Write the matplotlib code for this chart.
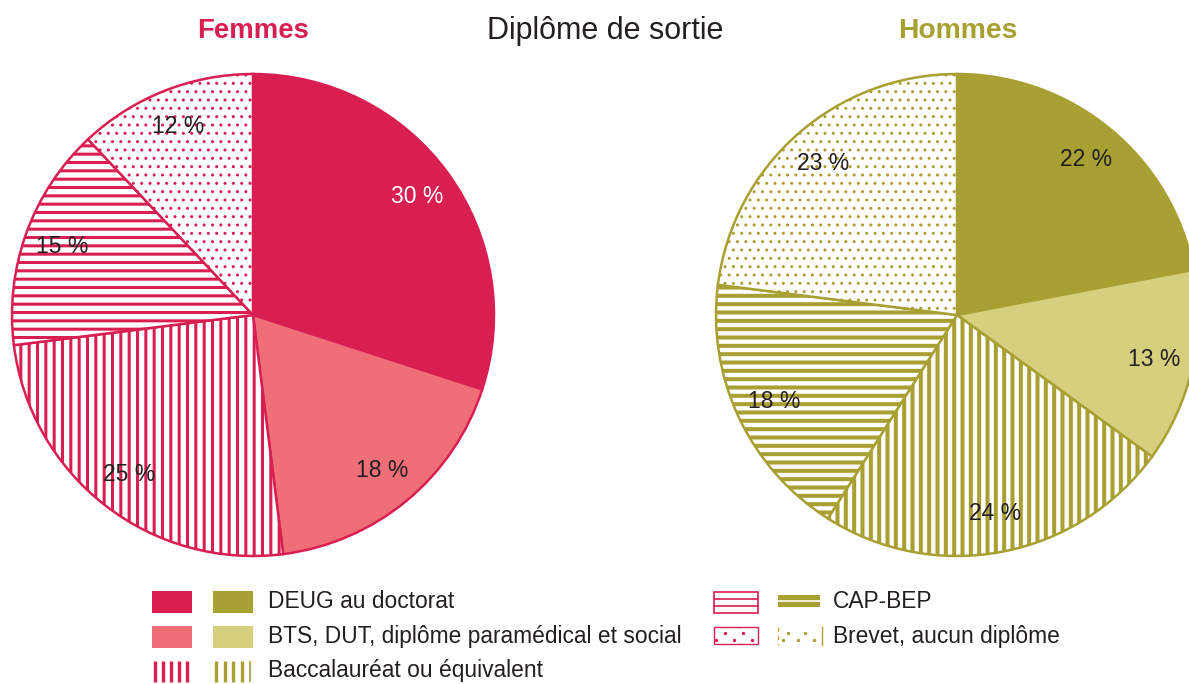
import matplotlib
matplotlib.use("Agg")
import matplotlib.pyplot as plt
from matplotlib import font_manager
from matplotlib.patches import Rectangle

# font: condensed if available
names = {f.name for f in font_manager.fontManager.ttflist}
FONT = "Liberation Sans Narrow" if "Liberation Sans Narrow" in names else "Liberation Sans"
NARROW = FONT == "Liberation Sans Narrow"
plt.rcParams["font.family"] = [FONT, "DejaVu Sans"]

# data
categories = ["DEUG au doctorat", "BTS, DUT, diplôme paramédical et social",
              "Baccalauréat ou équivalent", "CAP-BEP", "Brevet, aucun diplôme"]
femmes = [30, 18, 25, 15, 12]
hommes = [22, 13, 24, 18, 23]

F_DARK, F_LIGHT = "#D91F52", "#EF6E77"
H_DARK, H_LIGHT = "#A9A033", "#D6CF7E"
TXT = "#231F20"

hatches = [None, None, "||", "--", ".."]

PCT_SIZE = 19 if NARROW else 16.5
LEG_SIZE = 18 if NARROW else 16.4

W, H = 1189, 684
fig = plt.figure(figsize=(W / 100, H / 100), dpi=100)


def draw_pie(cx, cy, values, dark, light, line_lw, dot_lw):
    half = 250
    ax = fig.add_axes([(cx - half) / W, (H - cy - half) / H, 2 * half / W, 2 * half / H])
    faces = [dark, light, "white", "white", "white"]
    with plt.rc_context({"hatch.linewidth": line_lw}):
        wedges, texts, autotexts = ax.pie(
            values, colors=faces, startangle=90, counterclock=False, radius=1,
            autopct=lambda p: f"{p:.0f} %", pctdistance=0.84,
            wedgeprops=dict(linewidth=1.8),
            textprops=dict(fontsize=PCT_SIZE, color=TXT))
    for w, h in zip(wedges, hatches):
        w.set_edgecolor(dark)
        if h:
            w.set_hatch(h)
            if hasattr(w, "set_hatch_linewidth"):
                w.set_hatch_linewidth(dot_lw if h == ".." else line_lw)
    lim = half / 241
    ax.set_xlim(-lim, lim)
    ax.set_ylim(-lim, lim)
    ax.set_aspect("equal")
    return autotexts


at_f = draw_pie(253, 315, femmes, F_DARK, F_LIGHT, 2.2, 1.0)
at_f[0].set_color("white")
draw_pie(957, 315, hommes, H_DARK, H_LIGHT, 2.9, 1.0)

# titles
fig.text(253 / W, 1 - 31 / H, "Femmes", ha="center", va="center", fontsize=19.8,
         fontweight="bold", color=F_DARK)
fig.text(605 / W, 1 - 31 / H, "Diplôme de sortie", ha="center", va="center",
         fontsize=22, color=TXT)
fig.text(958 / W, 1 - 31 / H, "Hommes", ha="center", va="center", fontsize=20.3,
         fontweight="bold", color=H_DARK)

# legend drawn in pixel coordinates
lg = fig.add_axes([0, 0, 1, 1], zorder=5)
lg.set_xlim(0, W)
lg.set_ylim(H, 0)
lg.axis("off")
lg.patch.set_alpha(0)

rows = [601, 636, 670]
# column 1
lg.add_patch(Rectangle((152, 591), 40, 22, fc=F_DARK, ec="none"))
lg.add_patch(Rectangle((213, 591), 40, 22, fc=H_DARK, ec="none"))
lg.add_patch(Rectangle((152, 626), 40, 22, fc=F_LIGHT, ec="none"))
lg.add_patch(Rectangle((213, 626), 40, 22, fc=H_LIGHT, ec="none"))
for i in range(5):
    lg.plot([155 + 8 * i] * 2, [661, 682], color=F_DARK, lw=2.4, solid_capstyle="butt")
for i in range(5):
    lg.plot([216 + 8.5 * i] * 2, [661, 682], color=H_DARK, lw=2.4 if i < 4 else 1.2,
            solid_capstyle="butt")
for y, lab in zip(rows, categories[:3]):
    lg.text(268, y, lab, ha="left", va="center", fontsize=LEG_SIZE, color=TXT)

# column 2
lg.add_patch(Rectangle((714, 592), 44, 21, fc="white", ec=F_DARK, lw=1.2))
for y in (599, 606):
    lg.plot([714, 758], [y, y], color=F_DARK, lw=1.2)
lg.add_patch(Rectangle((778, 595), 42, 12, fc=H_DARK, ec="none"))
lg.plot([778, 820], [601, 601], color="white", lw=1.2)
lg.add_patch(Rectangle((714, 627), 44, 17, fc="white", ec=F_DARK, lw=1.0))
lg.scatter([725, 743, 716, 734, 752], [633, 633, 640, 640, 640], s=2, color=F_DARK)
lg.plot([778, 778], [627, 645], color="#E0A040", lw=1.0, ls=(0, (3, 3)))
lg.plot([822, 822], [627, 645], color=H_DARK, lw=1.0)
lg.scatter([788, 805, 783, 798, 814], [633, 633, 640, 640, 640], s=2, color=H_DARK)
for y, lab in zip(rows[:2], categories[3:]):
    lg.text(833, y, lab, ha="left", va="center", fontsize=LEG_SIZE, color=TXT)

fig.savefig("out.png", dpi=100)
